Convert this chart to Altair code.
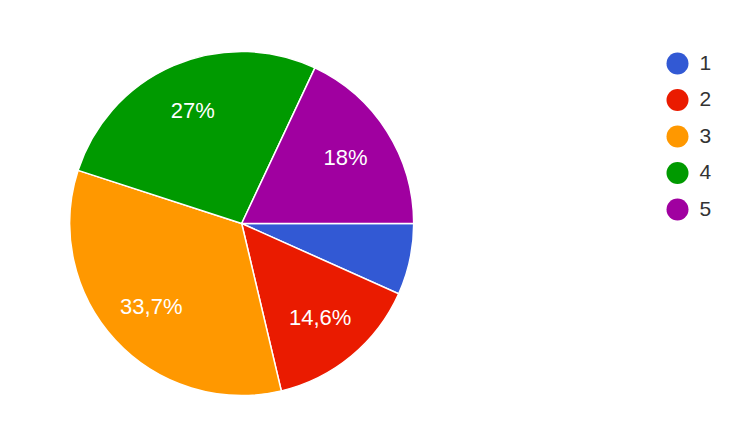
import altair as alt
import pandas as pd
import math

categories = ["1", "2", "3", "4", "5"]
values = [6.7, 14.6, 33.7, 27.0, 18.0]
labels = ["", "14,6%", "33,7%", "27%", "18%"]
colors = ["#3259d4", "#ea1b00", "#ff9800", "#009a00", "#a000a0"]

df = pd.DataFrame({"cat": categories, "value": values, "label": labels})

cx, cy = 233.7, 215.5
theta_scale = alt.Scale(range=[math.pi / 2, math.pi / 2 + 2 * math.pi])

base = alt.Chart(df).encode(
    theta=alt.Theta("value:Q", stack=True, scale=theta_scale),
    order=alt.Order("cat:N", sort="ascending"),
)

pie = base.mark_arc(outerRadius=172, stroke="white", strokeWidth=1.5).encode(
    x=alt.value(cx),
    y=alt.value(cy),
    color=alt.Color(
        "cat:N",
        scale=alt.Scale(domain=categories, range=colors),
        legend=alt.Legend(
            title=None,
            orient="none",
            legendX=658.5,
            legendY=44.5,
            symbolType="circle",
            symbolSize=484,
            symbolStrokeWidth=0,
            labelFontSize=21,
            labelFont="Liberation Sans",
            labelColor="#333333",
            labelOffset=11,
            rowPadding=14.5,
            padding=0,
        ),
    ),
)

text = base.mark_text(
    radius=123, fontSize=22, font="Liberation Sans", color="white", baseline="middle", align="center"
).encode(
    x=alt.value(cx),
    y=alt.value(cy),
    text="label:N",
)

chart = (
    alt.layer(pie, text)
    .properties(width=733, height=406, padding=0, autosize="none")
    .configure_view(stroke=None)
)

chart.save("out.html", embed_options={"renderer": "svg", "actions": False})
